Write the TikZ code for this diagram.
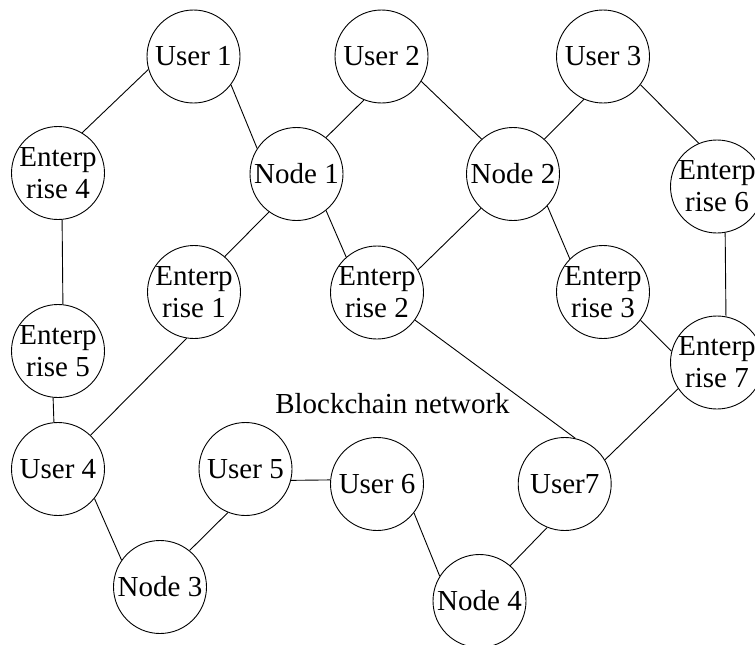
\documentclass[tikz,border=0pt]{standalone}
\usepackage{fontspec}
\setmainfont{Liberation Serif}
\begin{document}
\begin{tikzpicture}[x=1pt,y=-1pt,
  peer/.style={circle,draw,line width=0.9pt,minimum size=93pt,inner sep=0pt,
    align=center,font=\fontsize{29}{32}\selectfont},
  link/.style={line width=0.9pt},
  caption/.style={font=\fontsize{29}{32}\selectfont}]
\useasboundingbox (0,0) rectangle (755,645);
\clip (0,0) rectangle (755,645);

% participants
\node[peer] (u1) at (193.5,56.5) {User 1};
\node[peer] (u2) at (381.5,56.5) {User 2};
\node[peer] (u3) at (603,56.5) {User 3};
\node[peer] (e4) at (58,173) {Enterp\\rise 4};
\node[peer] (n1) at (296.5,174) {Node 1};
\node[peer] (n2) at (513,174) {Node 2};
\node[peer] (e6) at (717,186.5) {Enterp\\rise 6};
\node[peer] (e1) at (194,292) {Enterp\\rise 1};
\node[peer] (e2) at (377,292.5) {Enterp\\rise 2};
\node[peer] (e3) at (603,292) {Enterp\\rise 3};
\node[peer] (e5) at (58,351) {Enterp\\rise 5};
\node[peer] (e7) at (717,362.5) {Enterp\\rise 7};
\node[peer] (u4) at (58,469) {User 4};
\node[peer] (u5) at (245.5,469) {User 5};
\node[peer] (u6) at (377,484) {User 6};
\node[peer] (u7) at (564.7,484) {User7};
\node[peer] (n3) at (160,587) {Node 3};
\node[peer] (n4) at (479.5,601) {Node 4};

\node[caption] (net) at (392.5,404) {Blockchain network};

% links
\draw[link] (u1.196) -- (e4.59);
\draw[link] (u1.323) -- (n1.147);
\draw[link] (n1.51) -- (u2.248.5);
\draw[link] (e4.275.3) -- (e5.84.7);
\draw[link] (n1.234) -- (e1.49);
\draw[link] (n1.309) -- (e2.131);
\draw[link] (u2.328) -- (n2.132);
\draw[link] (n2.48) -- (u3.246);
\draw[link] (u3.323) -- (e6.113);
\draw[link] (n2.227) -- (e2.29);
\draw[link] (n2.317) -- (e3.135);
\draw[link] (e6.280.8) -- (e7.79.2);
\draw[link] (e5.264.2) -- (u4.95.8);
\draw[link] (u4.46) -- (e1.261.6);
\draw[link] (u4.321) -- (n3.145.5);
\draw[link] (n3.51) -- (u5.248.5);
\draw[link] (u5.346.3) -- (u6.175);
\draw[link] (e2.324.5) -- (u7.77);
\draw[link] (e3.323) -- (e7.166);
\draw[link] (e7.214.5) -- (u7.31);
\draw[link] (u6.322.4) -- (n4.148.4);
\draw[link] (n4.49) -- (u7.248.6);
\end{tikzpicture}
\end{document}
